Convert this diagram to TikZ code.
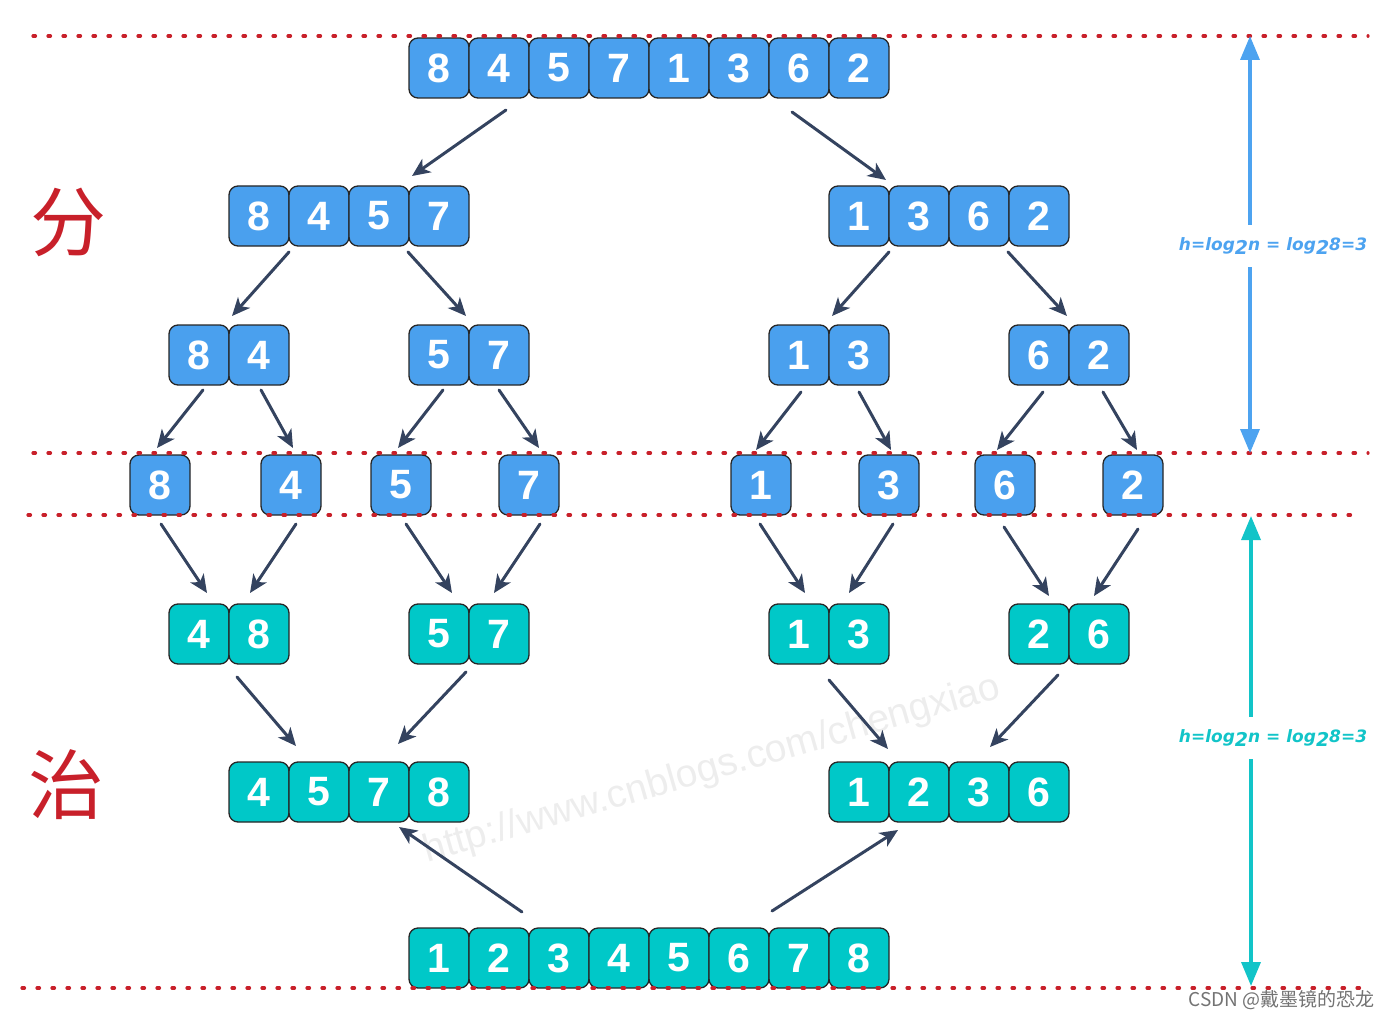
\documentclass[tikz,border=0pt]{standalone}
\usepackage{fontspec}
\setmainfont{Liberation Sans}
\newfontfamily\cjk{Noto Sans CJK SC}
\newfontfamily\hfont{DejaVu Sans}
\usetikzlibrary{arrows.meta}
\definecolor{cellblue}{HTML}{4AA0EE}
\definecolor{cellteal}{HTML}{00C8C8}
\definecolor{arrnavy}{HTML}{34435F}
\definecolor{dotred}{HTML}{C8202A}
\definecolor{hblue}{HTML}{4DA3F0}
\definecolor{hteal}{HTML}{12C4C8}
\tikzset{
	cell/.style={draw=black!85, line width=1.3pt, rounded corners=9pt,
		minimum width=60pt, minimum height=60pt, inner sep=0pt, outer sep=0pt,
		text=white, font=\fontsize{41}{41}\selectfont\bfseries},
	blu/.style={cell, fill=cellblue},
	tea/.style={cell, fill=cellteal},
	arr/.style={draw=arrnavy, line width=3pt, line cap=round,
		-{Stealth[length=18pt,width=16pt,inset=5pt]}},
	sepline/.style={draw=dotred, line width=3.2pt, line cap=round, dash pattern=on 2.5pt off 12.5pt},
	hlab/.style={font=\hfont\fontsize{17}{17}\selectfont\bfseries\itshape,
		minimum height=42pt, inner sep=0pt},
	harr/.style={line width=3.5pt, -{Triangle[length=24pt,width=19pt]}},
	han/.style={text=dotred, font=\cjk\fontsize{76}{76}\selectfont}
}
\newcommand\hsub{\raisebox{-.45ex}{\fontsize{19}{19}\selectfont 2}}
\begin{document}
\begin{tikzpicture}[x=1pt, y=-1pt, line join=round]
	\useasboundingbox (0,0) rectangle (1394,1019);
	\node[rotate=16, text=black!7, font=\fontsize{39}{39}\selectfont] (wm) at (712,770)
	{http://www.cnblogs.com/chengxiao};
	% divide
	\foreach \v [count=\i] in {8,4,5,7,1,3,6,2}
	\node[blu] (t\i) at (379+60*\i,68) {\v};
	\foreach \v [count=\i] in {8,4,5,7}
	\node[blu] (dl\i) at (199+60*\i,216) {\v};
	\foreach \v [count=\i] in {1,3,6,2}
	\node[blu] (dr\i) at (799+60*\i,216) {\v};
	\foreach \v/\x in {8/199,4/259,5/439,7/499,1/799,3/859,6/1039,2/1099}
	\node[blu] (p\v) at (\x,355) {\v};
	\foreach \v/\x in {8/160,4/291,5/401,7/529,1/761,3/889,6/1005,2/1133}
	\node[blu] (s\v) at (\x,485) {\v};
	% merge
	\foreach \v/\x in {4/199,8/259,5/439,7/499,1/799,3/859,2/1039,6/1099}
	\node[tea] (q\v) at (\x,634) {\v};
	\foreach \v [count=\i] in {4,5,7,8}
	\node[tea] (ml\i) at (199+60*\i,792) {\v};
	\foreach \v [count=\i] in {1,2,3,6}
	\node[tea] (mr\i) at (799+60*\i,792) {\v};
	\foreach \v [count=\i] in {1,...,8}
	\node[tea] (b\i) at (379+60*\i,958) {\v};
	% arrows
	\foreach \i/\sx/\sy/\ex/\ey in {
		1/506/110/412/176, 2/792/112/886/180,
		3/289/252/232/316, 4/408/252/466/316, 5/889/252/832/316, 6/1008/252/1067/316,
		7/203/390/157/448, 8/261/390/293/448, 9/443/390/398/448, 10/499/390/539/448,
		11/801/392/756/450, 12/859/392/891/450, 13/1043/392/997/450, 14/1103/392/1137/450,
		15/161/524/207/593, 16/296/524/250/593, 17/406/524/452/593, 18/540/524/494/593,
		19/760/524/805/593, 20/893/524/849/593, 21/1004/527/1049/596, 22/1138/529/1094/596,
		23/237/677/296/746, 24/466/672/398/744, 25/829/680/888/749, 26/1058/675/990/747,
		27/522/912/399/827, 28/772/911/898/830}
	{
		\coordinate (a\i) at (\sx,\sy);
		\coordinate (z\i) at (\ex,\ey);
		\draw[arr] (a\i) -- (z\i);
	}
	\draw[sepline] (33,36) -- (1368,36) (33,453) -- (1368,453)
	(28,515) -- (1358,515) (22,988) -- (1360,988);
	\node[han] (fen) at (68,222) {分};
	\node[han] (zhi) at (66,785) {治};
	% height
	\path (1250,36) coordinate (ht) (1250,453) coordinate (hb)
	(1251,516) coordinate (gt) (1251,986) coordinate (gb);
	\node[hlab, text=hblue] (hd) at (1273,246) {h=log\hsub n = log\hsub 8=3};
	\node[hlab, text=hteal] (hm) at (1273,738) {h=log\hsub n = log\hsub 8=3};
	\draw[harr, hblue] (ht |- hd.north) -- (ht);
	\draw[harr, hblue] (hb |- hd.south) -- (hb);
	\draw[harr, hteal] (gt |- hm.north) -- (gt);
	\draw[harr, hteal] (gb |- hm.south) -- (gb);
	\node[anchor=east, text=black!55, font=\cjk\fontsize{19}{19}\selectfont] (csdn) at (1378,1000)
	{CSDN @戴墨镜的恐龙};
\end{tikzpicture}
\end{document}
